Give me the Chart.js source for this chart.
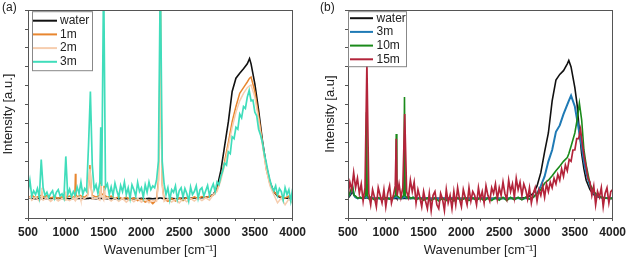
<!DOCTYPE html>
<html>
<head>
<meta charset="utf-8">
<script src="https://cdn.jsdelivr.net/npm/chart.js@4.4.0/dist/chart.umd.min.js"></script>
<style>
  body { margin: 0; background: #fff; }
  #wrap { position: relative; width: 630px; height: 261px; }
  canvas { position: absolute; top: 0; }
  #cA { left: 0; }
  #cB { left: 318px; }
</style>
</head>
<body>
<div id="wrap">
  <canvas id="cA" width="310" height="261"></canvas>
  <canvas id="cB" width="312" height="261"></canvas>
</div>
<script>
// ---- panel (a) ----
var wnA = [500,530,550,600,650,675,683,690,700,750,
  800,850,900,950,990,996,1002,1050,1100,1120,
  1127,1134,1150,1190,1200,1250,1290,1305,1319,1335,
  1350,1400,1450,1456,1462,1468,1500,1506,1512,1550,
  1600,1650,1700,1750,1800,1850,1900,1950,2000,2050,
  2100,2150,2200,2225,2240,2250,2260,2275,2300,2350,
  2400,2450,2500,2550,2600,2650,2700,2750,2800,2850,
  2900,2950,3000,3050,3100,3150,3200,3250,3300,3350,
  3400,3430,3450,3500,3550,3600,3650,3700,3750,3800,
  3850,3900,3950,4000];

var waterA = [0.02,0.03,0.02,0.01,0.02,0.02,0.02,0.02,0.01,0.02,
  0.02,0.01,0.02,0.02,0.02,0.02,0.02,0.01,0.02,0.02,
  0.02,0.02,0.02,0.02,0.02,0.01,0.02,0.02,0.03,0.02,
  0.02,0.01,0.02,0.02,0.02,0.02,0.02,0.02,0.02,0.01,
  0.02,0.01,0.02,0.01,0.02,0.01,0.02,0.01,0.02,0.01,
  0.02,0.01,0.02,0.02,0.03,0.03,0.03,0.02,0.02,0.01,
  0.02,0.01,0.02,0.02,0.03,0.02,0.03,0.03,0.04,0.05,
  0.07,0.12,0.3,0.75,1.4,2.05,2.85,3.2,3.33,3.45,
  3.58,3.72,3.58,3.05,2.35,1.55,0.9,0.45,0.2,0.08,
  0.04,0.03,0.02,0.02];

var m1A = [0.08,0.05,0.1,0.04,0.08,0.1,0.2,0.1,0.05,0.09,
  0.03,0.07,0.02,0.06,0.03,0.12,0.05,0.08,0.04,0.1,
  0.67,0.12,0.06,0.1,0.08,0.05,0.12,0.4,0.9,0.3,
  0.1,0.06,0.1,0.2,0.5,0.15,0.1,0.35,0.1,0.05,
  0.08,0.02,0.06,0.0,0.05,-0.02,0.03,-0.04,0.0,-0.08,
  -0.03,-0.12,-0.02,0.5,2.5,5.8,2.5,0.4,0.0,-0.06,
  0.02,-0.05,0.03,-0.04,0.04,0.0,0.06,0.02,0.07,0.03,
  0.08,0.1,0.25,0.55,1.0,1.5,2.05,2.45,2.8,2.95,
  3.1,3.2,3.23,2.85,2.2,1.5,0.8,0.4,0.2,0.1,
  0.06,0.03,0.08,0.04];

var m2A = [0.0,0.06,-0.03,0.05,-0.05,0.03,0.3,0.0,-0.03,0.04,
  -0.06,0.03,-0.05,0.02,-0.03,0.2,0.0,-0.04,0.03,-0.03,
  0.08,-0.02,0.03,0.06,-0.03,0.02,0.08,0.45,0.8,0.3,
  0.0,0.03,-0.03,0.2,0.4,0.1,-0.02,0.3,0.0,0.04,
  -0.05,0.03,-0.06,0.02,-0.08,0.01,-0.07,0.02,-0.08,0.0,
  -0.1,-0.04,-0.06,0.4,2.2,5.6,2.2,0.35,-0.06,0.01,
  -0.08,0.0,-0.1,0.01,-0.07,0.02,-0.05,0.03,-0.04,0.03,
  -0.03,0.12,0.2,0.5,0.9,1.4,1.9,2.3,2.6,2.8,
  2.95,3.0,3.02,2.7,2.1,1.45,0.8,0.35,0.12,-0.1,
  0.03,-0.15,0.0,-0.12];

// 3m is a noisy trace, so it gets a finer wavenumber list of its own
var wnA3 = [500,525,550,575,600,625,650,675,700,725,750,775,
  800,825,850,875,900,925,950,975,1000,1025,1050,1075,
  1100,1125,1150,1175,1200,1225,1250,1275,1300,1325,1350,1375,
  1400,1425,1450,1462,1475,1500,1525,1550,1575,
  1600,1625,1650,1675,1700,1725,1750,1775,1800,1825,1850,1875,
  1900,1925,1950,1975,2000,2025,2050,2075,2100,2125,2150,2175,
  2200,2225,2250,2275,2300,2325,2350,2375,2400,2425,2450,2475,
  2500,2525,2550,2575,2600,2625,2650,2675,2700,2725,2750,2775,
  2800,2825,2850,2875,2900,2925,2950,2975,3000,3025,3050,3075,
  3100,3125,3150,3175,3200,3225,3250,3275,3300,3325,3350,3375,
  3400,3425,3450,3475,3500,3525,3550,3575,3600,3625,3650,3675,
  3700,3725,3750,3775,3800,3825,3850,3875,3900,3925,3950,3975,
  4000];

var m3A = [0.2,0.5,0.08,0.22,0.12,0.28,0.05,1.05,0.3,0.1,0.18,0.04,
  0.15,0.22,0.02,0.18,0.25,0.08,0.14,0.02,1.13,0.12,0.26,0.06,
  0.2,0.1,0.32,0.15,0.45,0.12,0.28,0.2,1.4,2.85,0.9,0.25,
  0.38,0.15,0.45,1.9,0.35,6.0,0.3,0.4,0.12,
  0.32,0.1,0.42,0.22,0.05,0.36,0.2,0.45,0.12,0.3,0.02,0.38,
  0.25,0.08,0.44,0.2,0.3,0.05,0.38,0.18,0.45,0.25,0.35,0.3,
  0.5,1.0,6.0,1.0,0.4,0.12,0.3,-0.02,0.25,0.18,0.35,0.0,
  0.22,0.3,0.05,0.28,0.15,-0.05,0.32,0.12,0.2,0.35,0.02,0.25,
  0.3,0.08,0.22,0.36,0.1,0.28,0.4,0.2,0.45,0.38,0.6,0.75,
  0.95,0.9,1.25,1.2,1.65,1.6,1.9,1.85,2.25,2.15,2.45,2.4,
  2.7,2.88,2.6,2.62,2.3,2.2,1.85,1.7,1.5,1.2,0.98,0.72,
  0.5,0.32,0.22,0.35,0.1,0.28,0.2,-0.02,0.3,0.12,0.25,-0.05,
  0.28];

// ---- panel (b) ----
var wnB = [500,530,560,580,600,630,660,700,735,745,
  755,780,800,850,900,950,1000,1050,1100,1130,
  1138,1146,1170,1200,1238,1247,1256,1280,1300,1330,
  1360,1400,1450,1500,1550,1600,1650,1700,1750,1800,
  1850,1900,1950,2000,2050,2100,2150,2200,2250,2300,
  2350,2400,2450,2500,2550,2600,2650,2700,2750,2800,
  2850,2900,2950,3000,3050,3100,3150,3200,3250,3300,
  3350,3400,3420,3450,3500,3530,3560,3590,3620,3650,
  3700,3750,3800,3850,3900,3950,4000];

var waterB = [0.02,0.1,0.2,0.1,0.05,0.03,0.03,0.02,0.03,0.05,
  0.03,0.02,0.03,0.02,0.02,0.02,0.02,0.02,0.02,0.02,
  0.05,0.02,0.02,0.02,0.02,0.05,0.02,0.02,0.02,0.02,
  0.02,0.02,0.02,0.02,0.02,0.02,0.02,0.02,0.02,0.02,
  0.02,0.02,0.02,0.02,0.02,0.02,0.02,0.02,0.02,0.02,
  0.02,0.02,0.02,0.02,0.02,0.02,0.02,0.02,0.03,0.03,
  0.04,0.08,0.15,0.35,0.7,1.25,1.75,2.6,3.15,3.3,
  3.4,3.58,3.67,3.5,2.95,2.5,1.8,1.2,0.8,0.5,
  0.25,0.12,0.06,0.04,0.03,0.02,0.02];

var m3B = [0.05,0.15,0.3,0.1,0.05,0.02,0.04,0.02,0.05,0.3,
  0.05,0.02,0.04,0.01,0.03,0.0,0.03,0.01,0.03,0.05,
  0.5,0.05,0.03,0.02,0.05,0.6,0.05,0.03,0.05,0.02,
  0.04,0.02,0.03,0.01,0.03,0.0,0.03,0.01,0.03,0.0,
  0.03,0.01,0.03,0.0,0.03,0.01,0.03,0.0,0.03,0.01,
  0.03,0.0,0.03,0.01,0.03,0.0,0.03,0.01,0.03,0.0,
  0.03,0.01,0.05,0.15,0.35,0.6,1.0,1.3,1.78,1.95,
  2.25,2.5,2.6,2.74,2.45,2.1,1.75,1.4,1.0,0.7,
  0.35,0.15,0.08,0.05,0.03,0.02,0.02];

var m10B = [0.03,0.2,0.35,0.1,0.08,0.02,0.05,0.0,0.1,2.3,
  0.1,0.0,0.05,-0.02,0.04,-0.02,0.04,0.0,0.05,0.1,
  1.72,0.1,0.05,0.02,0.1,2.7,0.1,0.03,0.08,0.02,
  0.05,-0.02,0.04,-0.03,0.03,-0.04,0.03,-0.05,0.02,-0.04,
  0.03,-0.05,0.03,-0.03,0.04,-0.04,0.03,-0.03,0.04,-0.05,
  0.03,-0.04,0.04,-0.03,0.05,-0.04,0.05,-0.02,0.05,-0.02,
  0.05,0.0,0.05,0.15,0.25,0.42,0.5,0.62,0.75,0.87,
  1.0,1.1,1.2,1.4,1.75,2.1,2.54,2.1,1.3,0.9,
  0.4,0.2,0.1,0.05,0.03,0.02,0.02];

// 15m is the noisiest trace, finer wavenumber list as well
var wnB15 = [500,525,550,575,600,625,650,675,700,725,750,775,
  800,825,850,875,900,925,950,975,1000,1025,1050,1075,
  1100,1125,1138,1150,1175,1200,1225,1250,1275,1300,1325,1350,1375,
  1400,1425,1450,1475,1500,1525,1550,1575,
  1600,1625,1650,1675,1700,1725,1750,1775,1800,1825,1850,1875,
  1900,1925,1950,1975,2000,2025,2050,2075,2100,2125,2150,2175,
  2200,2225,2250,2275,2300,2325,2350,2375,2400,2425,2450,2475,
  2500,2525,2550,2575,2600,2625,2650,2675,2700,2725,2750,2775,
  2800,2825,2850,2875,2900,2925,2950,2975,3000,3025,3050,3075,
  3100,3125,3150,3175,3200,3225,3250,3275,3300,3325,3350,3375,
  3400,3425,3450,3475,3500,3525,3550,3575,3600,3625,3650,3675,
  3700,3725,3750,3775,3800,3825,3850,3875,3900,3925,3950,3975,
  4000];

var m15B = [0.1,0.45,0.25,0.7,0.3,0.55,0.15,0.4,-0.05,0.3,3.6,0.15,
  -0.15,0.25,0.05,-0.2,0.3,0.1,-0.1,0.25,-0.2,0.15,0.35,-0.1,
  0.1,0.35,1.6,0.1,0.4,0.05,0.3,2.25,0.2,0.05,0.5,0.2,0.45,
  -0.1,0.25,0.05,-0.2,0.2,-0.05,-0.25,0.15,
  -0.3,0.1,0.2,-0.15,-0.25,0.15,0.0,-0.3,0.25,-0.1,0.1,-0.25,
  0.2,-0.15,0.3,0.0,-0.2,0.25,0.05,-0.15,0.3,-0.05,0.2,0.1,
  -0.15,0.3,0.0,0.2,-0.1,0.35,0.1,-0.05,0.3,0.15,0.4,0.0,
  0.3,0.1,0.45,0.15,0.0,0.5,0.2,0.4,0.05,0.55,0.25,0.45,
  0.1,0.4,0.25,0.0,0.3,-0.1,0.15,0.3,-0.05,0.25,0.1,0.35,
  0.05,0.4,0.2,0.45,0.3,0.55,0.4,0.65,0.5,0.8,0.6,0.9,
  0.75,1.05,1.0,1.3,1.3,1.6,1.6,1.85,1.45,1.1,0.85,0.55,
  0.45,0.1,0.35,-0.15,0.2,0.05,0.3,-0.2,0.15,0.3,-0.1,0.2,
  0.25];

var FONT = 'Arial, "Liberation Sans", sans-serif';

function pts(xs, ys) {
  return xs.map(function (x, i) { return { x: x, y: ys[i] }; });
}

function ds(label, xs, ys, color, order, width) {
  return {
    label: label, data: pts(xs, ys), borderColor: color, backgroundColor: color,
    borderWidth: width || 1.5, pointRadius: 0, tension: 0, fill: false, order: order
  };
}

// frame round the plot, panel letter and the boxed legend
var boxPlugin = {
  id: 'box',
  afterDraw: function (chart, args, o) {
    var ctx = chart.ctx, a = chart.chartArea;
    ctx.save();
    ctx.strokeStyle = '#555';
    ctx.lineWidth = 1;
    ctx.strokeRect(Math.round(a.left) + 0.5, Math.round(a.top) + 0.5,
      Math.round(a.right - a.left) - 1, Math.round(a.bottom - a.top));

    var bx = a.left + o.dx, by = a.top + o.dy;
    ctx.fillStyle = '#fff';
    ctx.fillRect(bx, by, o.w, o.h);
    ctx.strokeStyle = '#888';
    ctx.strokeRect(bx + 0.5, by + 0.5, o.w, o.h);
    ctx.font = '12px ' + FONT;
    ctx.textBaseline = 'middle';
    chart.data.datasets.forEach(function (d, i) {
      var y = by + o.first + i * o.row;
      ctx.strokeStyle = d.borderColor;
      ctx.lineWidth = 2;
      ctx.beginPath();
      ctx.moveTo(bx + o.l0, y);
      ctx.lineTo(bx + o.l1, y);
      ctx.stroke();
      ctx.fillStyle = '#222';
      ctx.fillText(d.label, bx + o.tx, y);
    });

    ctx.font = '12px ' + FONT;
    ctx.fillStyle = '#222';
    ctx.fillText(o.panel, 2, 8);
    ctx.restore();
  }
};

function makeChart(id, datasets, yTitle, yWidth, yPad, padRight, box) {
  return new Chart(document.getElementById(id).getContext('2d'), {
    type: 'line',
    data: { datasets: datasets },
    options: {
      responsive: false,
      animation: false,
      devicePixelRatio: 1,
      events: [],
      layout: { padding: { top: 2, right: padRight, left: 0, bottom: 0 } },
      plugins: { legend: { display: false }, tooltip: { enabled: false }, box: box },
      scales: {
        x: {
          type: 'linear', min: 500, max: 4000,
          afterFit: function (s) { s.height = 43; },
          grid: { drawOnChartArea: false, tickLength: 3, color: '#555' },
          border: { color: '#555' },
          ticks: {
            stepSize: 250, autoSkip: false, maxRotation: 0, padding: 4, color: '#222',
            font: { family: FONT, size: 12, weight: 'bold' },
            callback: function (v) { return v % 500 === 0 ? String(v) : ''; }
          },
          title: { display: true, text: 'Wavenumber [cm\u207B\u00B9]', color: '#222',
            font: { family: FONT, size: 13 }, padding: { top: 0, bottom: 3 } }
        },
        y: {
          min: -0.5, max: 5,
          afterFit: function (s) { s.width = yWidth; },
          grid: { drawOnChartArea: false, tickLength: 3, color: '#555' },
          border: { color: '#555' },
          ticks: { stepSize: 0.5, callback: function () { return ''; } },
          title: { display: true, text: yTitle, color: '#222',
            font: { family: FONT, size: 13 }, padding: { top: yPad, bottom: 0 } }
        }
      }
    },
    plugins: [boxPlugin]
  });
}

makeChart('cA', [
  ds('water', wnA, waterA, '#111111', 3, 1.6),
  ds('1m', wnA, m1A, '#E8862F', 2, 1.5),
  ds('2m', wnA, m2A, '#F6CDAE', 1, 1.5),
  ds('3m', wnA3, m3A, '#40DDBB', 0, 1.7)
], 'Intensity [a.u.]', 28, 1, 14,
  { panel: '(a)', dx: 4, dy: 1, w: 60, h: 59, first: 9.5, row: 13.7, l0: 1, l1: 25, tx: 28 });

makeChart('cB', [
  ds('water', wnB, waterB, '#111111', 3, 1.6),
  ds('3m', wnB, m3B, '#1F7AB5', 2, 2),
  ds('10m', wnB, m10B, '#1A8A1A', 1, 1.6),
  ds('15m', wnB15, m15B, '#B3243A', 0, 1.7)
], 'Intensity [a.u]', 30, 5, 15,
  { panel: '(b)', dx: 0, dy: 1, w: 58, h: 55, first: 7, row: 13.7, l0: 2, l1: 25, tx: 28.5 });
</script>
</body>
</html>
